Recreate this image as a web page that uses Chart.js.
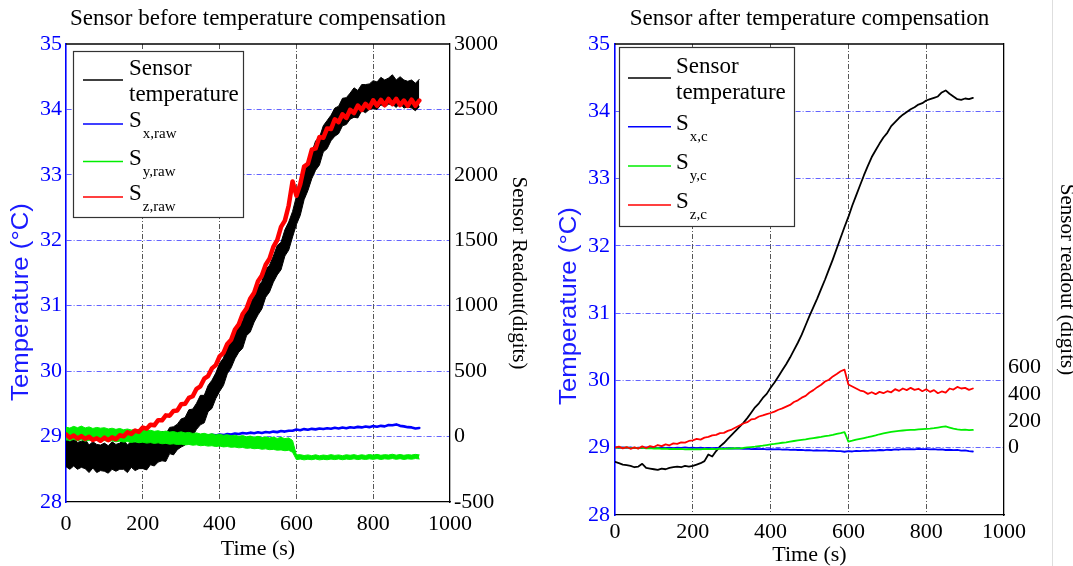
<!DOCTYPE html>
<html>
<head>
<meta charset="utf-8">
<script src="https://cdn.jsdelivr.net/npm/chart.js@4.4.1/dist/chart.umd.min.js"></script>
<style>
html, body { margin: 0; padding: 0; background: #fff; overflow: hidden; }
#page { position: relative; width: 1073px; height: 566px; overflow: hidden; }
#c1 { position: absolute; left: 0; top: 0; }
#c2 { position: absolute; left: 540px; top: 0; }
#edge { position: absolute; left: 1052px; top: 0; width: 1px; height: 566px; background: #dedede; }
</style>
</head>
<body>
<div id="page">
<div id="edge"></div>
<canvas id="c1" width="540" height="580" style="width:540px;height:580px"></canvas>
<canvas id="c2" width="545" height="580" style="width:545px;height:580px"></canvas>
</div>
<script>
// tiempo (s), una muestra cada 10 s
var tiempo = [0,10,20,30,40,50,60,70,80,90,
  100,110,120,130,140,150,160,170,180,190,
  200,210,220,230,240,250,260,270,280,290,
  300,310,320,330,340,350,360,370,380,390,
  400,410,420,430,440,450,460,470,480,490,
  500,510,520,530,540,550,560,570,580,590,
  600,610,620,630,640,650,660,670,680,690,
  700,710,720,730,740,750,760,770,780,790,
  800,810,820,830,840,850,860,870,880,890,
  900,910,920];

// ---- antes de la compensacion ----
// temperatura muy ruidosa: borde superior e inferior de la banda (°C)
var tempAntesSup = [28.97,28.92,28.97,28.91,28.93,28.96,28.87,28.92,28.88,28.87,
  28.90,28.86,28.92,28.88,28.90,28.95,28.87,28.93,28.91,28.90,
  28.94,28.91,28.99,28.96,29.01,29.08,29.04,29.14,29.15,29.19,
  29.27,29.29,29.41,29.42,29.51,29.63,29.63,29.78,29.86,29.97,
  30.12,30.20,30.38,30.46,30.59,30.74,30.77,30.94,31.03,31.14,
  31.29,31.37,31.55,31.62,31.76,31.92,31.97,32.16,32.28,32.44,
  32.67,32.80,33.04,33.17,33.34,33.52,33.57,33.75,33.83,33.91,
  34.02,34.05,34.17,34.18,34.25,34.33,34.29,34.38,34.38,34.39,
  34.44,34.42,34.49,34.45,34.48,34.53,34.45,34.50,34.45,34.43,
  34.45,34.40,34.46];
var tempAntesInf = [28.54,28.50,28.55,28.50,28.53,28.51,28.45,28.52,28.45,28.48,
  28.47,28.44,28.50,28.47,28.50,28.50,28.45,28.53,28.48,28.51,
  28.51,28.49,28.57,28.55,28.61,28.63,28.62,28.74,28.72,28.80,
  28.84,28.87,28.99,29.01,29.11,29.18,29.21,29.38,29.43,29.58,
  29.69,29.78,29.96,30.05,30.19,30.29,30.35,30.54,30.60,30.75,
  30.86,30.95,31.13,31.21,31.36,31.47,31.55,31.76,31.85,32.05,
  32.24,32.38,32.62,32.76,32.94,33.07,33.15,33.35,33.40,33.52,
  33.59,33.63,33.75,33.77,33.85,33.88,33.87,33.98,33.95,34.00,
  34.01,34.00,34.07,34.04,34.08,34.08,34.03,34.10,34.02,34.04,
  34.02,33.98,34.04];
var sxRaw = [5,-5,8,-4,6,-6,4,-3,7,-5,
  5,-6,3,-4,6,-5,4,-6,5,-3,
  6,-4,5,-5,7,-3,5,-4,6,-2,
  6,0,7,2,9,4,11,6,13,9,
  16,11,19,15,23,19,27,23,30,26,
  33,28,35,31,38,34,42,38,45,44,
  54,49,57,52,59,55,62,58,64,60,
  67,62,69,64,71,67,74,70,77,72,
  80,75,82,78,88,86,93,82,78,72,
  70,62,66];
// Sy ruidosa: bordes de la banda (digits)
var syRawSup = [72,65,78,68,80,66,74,62,70,64,
  68,58,64,55,62,52,58,50,55,46,
  52,44,48,40,45,36,42,34,38,30,
  36,28,32,24,28,20,25,16,22,12,
  18,10,14,6,11,2,8,-2,4,-5,
  2,-8,-2,-10,-4,-14,-6,-16,-10,-30,
  -140,-138,-145,-140,-146,-139,-147,-141,-145,-138,
  -144,-140,-146,-139,-143,-138,-145,-139,-144,-137,
  -142,-136,-143,-138,-141,-135,-142,-137,-143,-138,
  -141,-136,-140];
var syRawInf = [-25,-30,-22,-32,-24,-35,-28,-34,-26,-36,
  -30,-38,-32,-40,-35,-42,-38,-45,-40,-47,
  -43,-50,-46,-52,-48,-55,-52,-58,-55,-60,
  -58,-64,-60,-66,-63,-70,-67,-73,-70,-76,
  -72,-79,-76,-82,-80,-86,-83,-90,-87,-93,
  -90,-97,-94,-100,-98,-104,-102,-108,-105,-120,
  -176,-172,-178,-173,-177,-171,-178,-174,-177,-172,
  -176,-171,-177,-172,-175,-170,-176,-171,-175,-170,
  -174,-169,-175,-170,-173,-168,-174,-169,-175,-170,
  -173,-168,-171];
var szRaw = [17,-8,8,-15,4,-18,-1,-26,-13,-32,
  -8,-28,-6,-20,10,2,32,20,46,36,
  69,60,91,86,125,124,162,160,196,200,
  247,250,296,308,365,384,442,462,521,546,
  612,640,708,740,818,858,937,978,1056,1100,
  1187,1230,1313,1360,1450,1502,1602,1650,1766,1950,
  1840,1928,2063,2085,2192,2202,2290,2283,2355,2350,
  2425,2403,2463,2435,2497,2472,2530,2496,2543,2512,
  2570,2528,2573,2532,2580,2540,2581,2533,2568,2527,
  2575,2528,2568];

// ---- despues de la compensacion ----
var tempDespues = [28.79,28.77,28.75,28.74,28.73,28.71,28.72,28.76,28.70,28.69,
  28.68,28.67,28.69,28.68,28.70,28.71,28.72,28.71,28.73,28.72,
  28.73,28.75,28.77,28.80,28.90,28.87,28.95,29.02,29.07,29.13,
  29.19,29.25,29.31,29.37,29.44,29.52,29.60,29.66,29.74,29.80,
  29.89,29.97,30.06,30.15,30.24,30.34,30.45,30.56,30.68,30.82,
  30.96,31.09,31.22,31.36,31.50,31.65,31.80,31.96,32.12,32.28,
  32.43,32.60,32.75,32.90,33.05,33.19,33.32,33.42,33.52,33.61,
  33.68,33.78,33.84,33.90,33.95,33.99,34.03,34.06,34.10,34.12,
  34.16,34.18,34.20,34.22,34.28,34.31,34.26,34.22,34.18,34.17,
  34.19,34.18,34.20];
var sxC = [2,-2,3,-1,2,-3,1,-2,3,-1,
  0,-3,2,-2,1,-3,0,-2,2,-1,
  0,-3,1,-4,-1,-4,-2,-5,-3,-6,
  -4,-7,-6,-9,-7,-10,-8,-11,-9,-12,
  -10,-13,-11,-14,-13,-16,-14,-17,-16,-19,
  -18,-21,-19,-22,-20,-24,-22,-26,-25,-30,
  -26,-28,-24,-26,-22,-24,-19,-21,-17,-19,
  -15,-17,-13,-15,-11,-13,-10,-12,-9,-11,
  -10,-13,-11,-14,-13,-17,-15,-18,-16,-22,
  -20,-26,-28];
var syC = [0,3,-2,2,-3,1,-4,0,-5,-3,
  -6,-4,-8,-6,-10,-8,-11,-9,-12,-10,
  -12,-10,-12,-9,-11,-8,-10,-7,-9,-6,
  -6,-4,-5,-2,2,5,8,12,15,20,
  25,28,33,37,40,46,50,54,58,62,
  67,72,76,80,86,90,95,102,108,116,
  45,52,60,66,72,78,85,92,100,106,
  112,117,122,125,128,130,132,133,136,138,
  140,142,145,150,155,158,150,142,137,133,
  134,131,132];
var szC = [0,8,-5,5,-8,3,-6,10,-2,12,
  5,20,12,25,18,32,28,40,38,50,
  55,65,60,75,80,92,95,108,110,125,
  135,150,165,180,190,210,215,232,240,250,
  258,268,282,292,305,318,340,352,372,385,
  410,428,450,468,492,505,530,548,568,580,
  470,455,440,425,418,400,412,398,415,405,
  420,412,435,422,440,428,445,430,438,420,
  435,415,428,405,418,410,440,432,452,440,
  445,430,440];

var ticksDerecha = [0, 200, 400, 600];
var coloresLeyenda = ['#000000', '#0000ff', '#00ee00', '#ff0000'];
var subAntes = ['x,raw', 'y,raw', 'z,raw'];
var subDespues = ['x,c', 'y,c', 'z,c'];

var serif = '"Liberation Serif", serif';
var sans = '"Liberation Sans", sans-serif';
var azulGrid = 'rgba(60,60,255,0.8)';

function toPts(ys) {
    var pts = [];
    for (var i = 0; i < ys.length; i++) {
        pts.push({x: tiempo[i], y: ys[i]});
    }
    return pts;
}

function linea(datos, eje, color, ancho, orden, relleno) {
    return {
        data: toPts(datos), yAxisID: eje, borderColor: color, borderWidth: ancho, order: orden,
        fill: relleno ? '-1' : false, backgroundColor: color
    };
}

// marco superior del area + titulo azul del eje de temperatura
var marco = {
    id: 'marco',
    afterDraw: function(chart, args, o) {
        var a = chart.chartArea;
        var ctx = chart.ctx;
        ctx.save();
        ctx.strokeStyle = '#000';
        ctx.lineWidth = 1.3;
        ctx.beginPath();
        ctx.moveTo(a.left, a.top);
        ctx.lineTo(a.right, a.top);
        ctx.stroke();
        ctx.translate(o.x, o.y);
        ctx.rotate(-Math.PI / 2);
        ctx.scale(1.12, 1);
        ctx.fillStyle = '#1a1aff';
        ctx.font = '23px ' + sans;
        ctx.textAlign = 'center';
        ctx.textBaseline = 'middle';
        ctx.fillText('Temperature (°C)', 0, 0);
        ctx.restore();
    }
};

// leyenda con subindices
var leyenda = {
    id: 'leyenda',
    afterDatasetsDraw: function(chart, args, o) {
        var ctx = chart.ctx;
        ctx.save();
        ctx.fillStyle = '#fff';
        ctx.fillRect(o.x, o.y, o.w, o.h);
        ctx.strokeStyle = '#333';
        ctx.lineWidth = 1.2;
        ctx.strokeRect(o.x + 0.5, o.y + 0.5, o.w, o.h);
        ctx.textAlign = 'left';
        ctx.textBaseline = 'alphabetic';
        for (var i = 0; i < coloresLeyenda.length; i++) {
            var y = o.filas[i];
            ctx.strokeStyle = coloresLeyenda[i];
            ctx.lineWidth = 1.6;
            ctx.beginPath();
            ctx.moveTo(o.x1, y);
            ctx.lineTo(o.x2, y);
            ctx.stroke();
            ctx.fillStyle = '#000';
            ctx.font = '23px ' + serif;
            if (i === 0) {
                ctx.fillText('Sensor', o.tx, y - 5);
                ctx.fillText('temperature', o.tx, y + 21);
            } else {
                ctx.fillText('S', o.tx, y + 3);
                var w = ctx.measureText('S').width;
                ctx.font = '15px ' + serif;
                ctx.fillText(o.subs[i - 1], o.tx + w + 1, y + 14);
            }
        }
        ctx.restore();
    }
};

function sinComas(v) { return String(v); }

function crearGrafico(id, c) {
    var ctx = document.getElementById(id);
    return new Chart(ctx, {
        type: 'line',
        data: {datasets: c.series},
        plugins: [marco, leyenda],
        options: {
            responsive: false,
            animation: false,
            events: [],
            elements: {
                point: {radius: 0},
                line: {tension: 0, borderJoinStyle: 'round', borderCapStyle: 'round'}
            },
            layout: {padding: 0},
            plugins: {
                legend: {display: false},
                tooltip: {enabled: false},
                title: {
                    display: true, text: c.titulo, fullSize: false, color: '#000',
                    font: {family: serif, size: 23, weight: 'normal'},
                    padding: {top: 5, bottom: 11.4}
                },
                marco: c.tituloT,
                leyenda: c.leyenda
            },
            scales: {
                x: {
                    type: 'linear', min: 0, max: 1000,
                    ticks: {stepSize: 200, color: '#000', font: {family: serif, size: 22}, padding: c.xPad, maxRotation: 0, callback: sinComas},
                    grid: {
                        drawTicks: false, lineWidth: 0.9,
                        color: function(g) { return (g.tick && g.tick.value > 0 && g.tick.value < 1000) ? '#444' : 'rgba(0,0,0,0)'; }
                    },
                    border: {color: '#000', width: 1.3, dash: [5, 2, 1, 2]},
                    title: {display: true, text: 'Time (s)', color: '#000', font: {family: serif, size: 22}, padding: {top: 0, bottom: c.xTitlePad}},
                    afterFit: function(s) { s.height = c.xAlto; }
                },
                yT: {
                    type: 'linear', position: 'left', min: 28, max: 35,
                    ticks: {stepSize: 1, color: '#0000ff', font: {family: serif, size: 22}, padding: c.yPad, callback: sinComas},
                    grid: {
                        drawTicks: false, lineWidth: 1,
                        color: function(g) { return (g.tick && g.tick.value > 28 && g.tick.value < 35) ? azulGrid : 'rgba(0,0,0,0)'; }
                    },
                    border: {color: '#0000ff', width: 1.6, dash: [5, 2, 1, 2]},
                    title: {display: false},
                    afterFit: function(s) { s.width = c.izqAncho; }
                },
                yD: {
                    type: 'linear', position: 'right', min: -500, max: 3000,
                    ticks: {stepSize: 500, color: '#000', font: {family: serif, size: 22}, padding: 4, callback: sinComas},
                    afterBuildTicks: c.ticksD ? function(s) { s.ticks = c.ticksD.map(function(v) { return {value: v}; }); } : undefined,
                    grid: {drawOnChartArea: false, drawTicks: false},
                    border: {color: '#000', width: 1.3},
                    title: {display: true, text: c.tituloD, color: '#000', font: {family: serif, size: 21}, padding: {top: c.dTitlePad, bottom: 0}},
                    afterFit: function(s) { s.width = c.derAncho; }
                }
            }
        }
    });
}

crearGrafico('c1', {
    titulo: 'Sensor before temperature compensation',
    tituloD: 'Sensor Readout(digits)',
    series: [
        linea(tempAntesSup, 'yT', '#000000', 1, 5, false),
        linea(tempAntesInf, 'yT', '#000000', 1, 5, true),
        linea(sxRaw, 'yD', '#0000ff', 2.6, 3, false),
        linea(syRawSup, 'yD', '#00ee00', 1, 2, false),
        linea(syRawInf, 'yD', '#00ee00', 1, 2, true),
        linea(szRaw, 'yD', '#ff0000', 4.5, 0, false)
    ],
    xPad: 9, xTitlePad: 18, xAlto: 78,
    yPad: 4, izqAncho: 66,
    dTitlePad: 9, derAncho: 90,
    ticksD: null,
    tituloT: {x: 22, y: 302},
    leyenda: {x: 73, y: 51, w: 170, h: 166, x1: 83, x2: 123, tx: 129, filas: [80, 124, 161.5, 197], subs: subAntes}
});

crearGrafico('c2', {
    titulo: 'Sensor after temperature compensation',
    tituloD: 'Sensor readout (digits)',
    series: [
        linea(tempDespues, 'yT', '#000000', 1.8, 3, false),
        linea(sxC, 'yD', '#0000ff', 1.8, 2, false),
        linea(syC, 'yD', '#00ee00', 1.8, 1, false),
        linea(szC, 'yD', '#ff0000', 1.8, 0, false)
    ],
    xPad: 4, xTitlePad: 12, xAlto: 65,
    yPad: 5, izqAncho: 75,
    dTitlePad: 6, derAncho: 81,
    ticksD: ticksDerecha,
    tituloT: {x: 30, y: 306},
    leyenda: {x: 79, y: 47, w: 175, h: 179, x1: 88, x2: 131, tx: 136, filas: [78, 126.7, 166, 205], subs: subDespues}
});
</script>
</body>
</html>
